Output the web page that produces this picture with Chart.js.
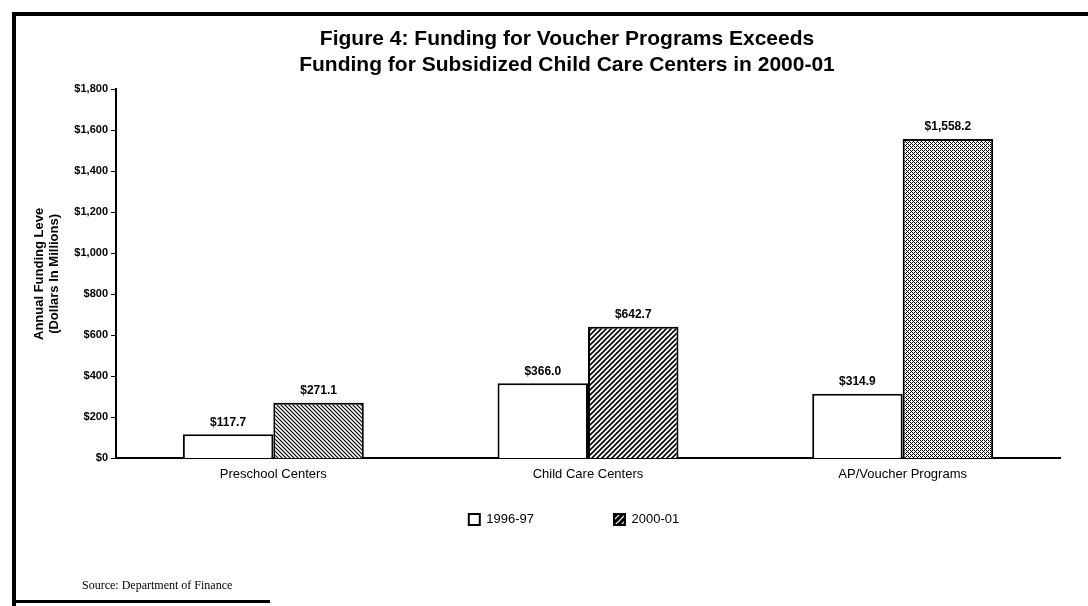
<!DOCTYPE html>
<html>
<head>
<meta charset="utf-8">
<title>Figure 4: Funding for Voucher Programs</title>
<script src="https://cdn.jsdelivr.net/npm/chart.js@4/dist/chart.umd.min.js"></script>
<style>
  html, body { margin: 0; padding: 0; background: #fff; }
  #wrap { width: 1088px; height: 606px; }
</style>
</head>
<body>
<div id="wrap"><canvas id="chart" width="1088" height="606"></canvas></div>
<script>
// values (dollars in millions)
const categories = ['Preschool Centers', 'Child Care Centers', 'AP/Voucher Programs']
const seriesNames = ['1996-97', '2000-01']
const funding9697 = [117.7, 366.0, 314.9]
const funding0001 = [271.1, 642.7, 1558.2]
const yTicks = [0, 200, 400, 600, 800, 1000, 1200, 1400, 1600, 1800]
const titleLines = ['Figure 4: Funding for Voucher Programs Exceeds', 'Funding for Subsidized Child Care Centers in 2000-01']
const yTitleLines = ['Annual Funding Leve', '(Dollars In Millions)']
const sourceNote = 'Source: Department of Finance'

const SANS = "'Liberation Sans', Arial, Helvetica, sans-serif"
const SERIF = "'Liberation Serif', 'Times New Roman', serif"

Chart.defaults.font.family = SANS
Chart.defaults.color = '#000'

// little tiles used as hatch fills for the 2000-01 bars
const makePattern = (size, draw) => {
    const c = document.createElement('canvas')
    c.width = c.height = size
    const g = c.getContext('2d')
    g.fillStyle = '#fff'
    g.fillRect(0, 0, size, size)
    g.strokeStyle = '#000'
    g.fillStyle = '#000'
    draw(g, size)
    return g.createPattern(c, 'repeat')
}

const backslash = (g, s, w) => {
    g.lineWidth = w
    g.beginPath()
    g.moveTo(-1, -1); g.lineTo(s + 1, s + 1)
    g.moveTo(-1, s - 1); g.lineTo(1, s + 1)
    g.moveTo(s - 1, -1); g.lineTo(s + 1, 1)
    g.stroke()
}

const slash = (g, s, w) => {
    g.lineWidth = w
    g.beginPath()
    g.moveTo(-1, s + 1); g.lineTo(s + 1, -1)
    g.moveTo(-1, 1); g.lineTo(1, -1)
    g.moveTo(s - 1, s + 1); g.lineTo(s + 1, s - 1)
    g.stroke()
}

const patterns = [
    makePattern(4, (g, s) => backslash(g, s, 1.2)),
    makePattern(5, (g, s) => slash(g, s, 1.6)),
    makePattern(4, (g, s) => {
        backslash(g, s, 1)
        g.fillRect(2, 0, 1, 1)
        g.fillRect(0, 2, 1, 1)
    })
]
// the scanned legend swatch is nearly solid with a pale diagonal
const legendPattern = makePattern(6, (g, s) => {
    g.fillRect(0, 0, s, s)
    g.strokeStyle = '#fff'
    slash(g, s, 1.2)
})

const money = v => '$' + v.toLocaleString('en-US', { minimumFractionDigits: 1, maximumFractionDigits: 1 })

const framePlugin = {
    id: 'frame',
    beforeDraw: chart => {
        const ctx = chart.ctx
        ctx.save()
        ctx.fillStyle = '#fff'
        ctx.fillRect(0, 0, chart.width, chart.height)
        ctx.restore()
    },
    afterDraw: chart => {
        const ctx = chart.ctx
        ctx.save()
        ctx.fillStyle = '#000'
        ctx.fillRect(12, 12, 4, chart.height - 12)
        ctx.fillRect(12, 12, chart.width - 12, 4)
        ctx.fillRect(12, 600, 258, 3)
        ctx.font = `12px ${SERIF}`
        ctx.textBaseline = 'middle'
        ctx.fillText(sourceNote, 82, 586)
        ctx.restore()
    }
}

const valueLabels = {
    id: 'valueLabels',
    afterDatasetsDraw: chart => {
        const ctx = chart.ctx
        ctx.save()
        ctx.font = `bold 12px ${SANS}`
        ctx.fillStyle = '#000'
        ctx.textAlign = 'center'
        ctx.textBaseline = 'bottom'
        chart.data.datasets.forEach((ds, i) => {
            chart.getDatasetMeta(i).data.forEach((bar, j) => {
                ctx.fillText(money(ds.data[j]), bar.x, bar.y - 6)
            })
        })
        ctx.restore()
    }
}

// legend items sit well apart and the title is a bit right of centre,
// so nudge those boxes after layout
const placeBoxes = {
    id: 'placeBoxes',
    afterLayout: chart => {
        const area = chart.chartArea
        const lg = chart.legend
        lg.top = chart.scales.x.bottom + 23 - lg.options.labels.padding
        const legendMid = (area.left + area.right) / 2 - 14
        lg.left = 2 * legendMid - lg.right

        const tb = chart.titleBlock
        const titleMid = 567
        tb.left = 2 * titleMid - tb.right
        tb.width = tb.right - tb.left
    }
}

const defaultLabels = Chart.defaults.plugins.legend.labels.generateLabels

new Chart('chart', {
    type: 'bar',
    data: {
        labels: categories,
        datasets: [
            {
                label: seriesNames[0],
                data: funding9697,
                backgroundColor: '#fff',
                borderColor: '#000',
                borderWidth: 2
            },
            {
                label: seriesNames[1],
                data: funding0001,
                backgroundColor: patterns,
                borderColor: '#000',
                borderWidth: 2
            }
        ]
    },
    options: {
        responsive: false,
        animation: false,
        devicePixelRatio: 1,
        categoryPercentage: 0.575,
        barPercentage: 1,
        layout: { padding: { top: 27, left: 32, right: 28, bottom: 13 } },
        plugins: {
            tooltip: { enabled: false },
            title: {
                display: true,
                text: titleLines,
                font: { size: 21, weight: 'bold', lineHeight: 1.2 },
                padding: { top: 0, bottom: 12 },
                color: '#000'
            },
            legend: {
                position: 'bottom',
                labels: {
                    boxWidth: 11,
                    boxHeight: 11,
                    padding: 80,
                    font: { size: 13 },
                    color: '#000',
                    generateLabels: chart => {
                        const items = defaultLabels(chart)
                        items[1].fillStyle = legendPattern
                        return items
                    }
                }
            }
        },
        scales: {
            x: {
                grid: { display: false, drawTicks: false },
                border: { color: '#000', width: 2 },
                ticks: { padding: 8, font: { size: 13 }, color: '#000' }
            },
            y: {
                min: 0,
                max: 1800,
                afterBuildTicks: s => { s.ticks = yTicks.map(v => ({ value: v })) },
                afterFit: s => { s.width = 84 },
                grid: { drawOnChartArea: false, drawTicks: true, tickLength: 5, color: '#000' },
                border: { color: '#000', width: 2 },
                ticks: {
                    padding: 3,
                    font: { size: 11, weight: 'bold' },
                    color: '#000',
                    callback: v => '$' + v.toLocaleString('en-US')
                },
                title: {
                    display: true,
                    text: yTitleLines,
                    font: { size: 13, weight: 'bold', lineHeight: 1.15 },
                    padding: { top: 0, bottom: 0 },
                    color: '#000'
                }
            }
        }
    },
    plugins: [framePlugin, valueLabels, placeBoxes]
})
</script>
</body>
</html>
